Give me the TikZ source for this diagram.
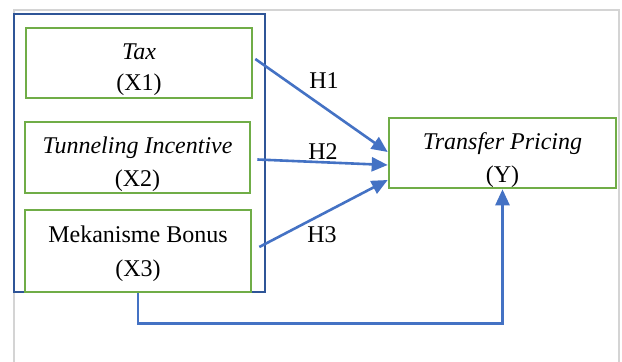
\documentclass[tikz,border=0pt]{standalone}
\usepackage{fontspec}
\setmainfont{Liberation Serif}
\usetikzlibrary{arrows.meta}
\definecolor{boxgreen}{HTML}{70AD47}
\definecolor{arrowblue}{HTML}{4472C4}
\definecolor{frameblue}{HTML}{2F5597}
\definecolor{pagegray}{HTML}{D4D4D4}
\tikzset{
  varbox/.style={draw=boxgreen,line width=1.3pt,fill=white,align=center,inner sep=0pt},
  hyp/.style={draw=arrowblue,line width=1.3pt,-{Triangle[length=8pt,width=7pt]}},
}
\begin{document}
\begin{tikzpicture}[x=0.5pt,y=-0.5pt,font=\fontsize{12}{14}\selectfont]
  \useasboundingbox (0,0) rectangle (622,362);
  % page frame
  \draw[pagegray,line width=0.6pt] (14,362) -- (14,10) -- (619,10) -- (619,362);

  % independent variables
  \node[draw=frameblue,line width=1.2pt,minimum width=125.5pt,minimum height=139pt] (indep) at (139.5,153) {};
  \node[varbox,minimum width=113pt,minimum height=35pt] (x1) at (139,63) {\rule{0pt}{15pt}\textit{Tax}\\[1.5pt](X1)};
  \node[varbox,minimum width=112.5pt,minimum height=35.5pt] (x2) at (137.5,157.5) {\rule{0pt}{15.5pt}\textit{Tunneling Incentive}\\[2.5pt](X2)};
  \node[varbox,minimum width=113pt,minimum height=41pt] (x3) at (138,251) {\rule{0pt}{11pt}Mekanisme Bonus\\[3pt](X3)};

  % dependent variable
  \node[varbox,minimum width=113.5pt,minimum height=35pt] (y) at (502.5,153) {\rule{0pt}{15.5pt}\textit{Transfer Pricing}\\[2.5pt](Y)};

  % hypotheses
  \draw[hyp] ([xshift=1pt,yshift=2pt]x1.east) -- ([yshift=0.5pt]y.west);
  \draw[hyp] ([xshift=3pt,yshift=-1pt]x2.east) -- ([yshift=-6pt]y.west);
  \draw[hyp] ([xshift=3.5pt,yshift=2pt]x3.east) -- ([yshift=-13.5pt]y.west);
  \draw[hyp] (x3.south) -- ++(0,-15pt) -| (y.south);

  \node (h1) at (324,81) {H1};
  \node (h2) at (323,152) {H2};
  \node (h3) at (322,235) {H3};
\end{tikzpicture}
\end{document}
